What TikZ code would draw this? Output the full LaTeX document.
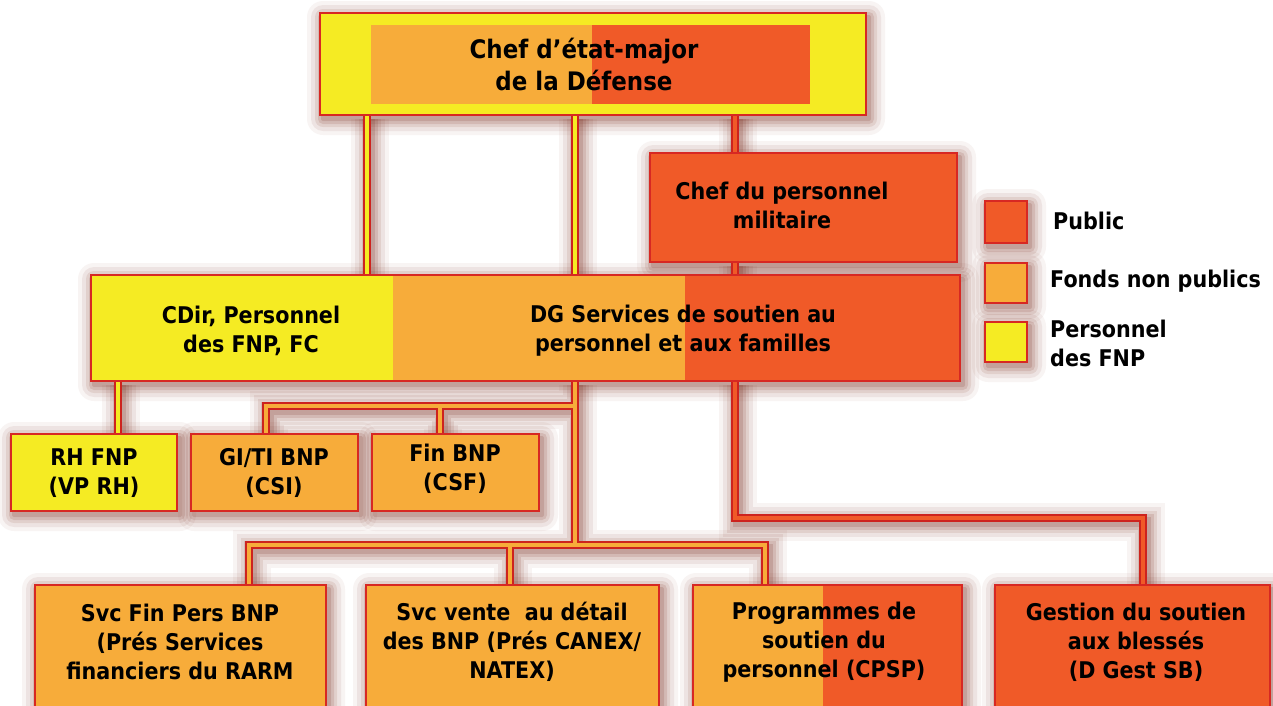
\documentclass[tikz,border=0pt]{standalone}
\usepackage{fontspec}
\setmainfont{DejaVu Sans}[FakeStretch=0.9]
\usetikzlibrary{calc}
\definecolor{cyel}{RGB}{245,235,35}
\definecolor{cora}{RGB}{247,172,58}
\definecolor{cred}{RGB}{240,90,40}
\definecolor{cbrd}{RGB}{215,40,35}
\definecolor{cline}{RGB}{205,35,30}
\definecolor{cshd}{RGB}{115,35,20}
\pgfdeclarelayer{shadow}
\pgfdeclarelayer{fills}
\pgfsetlayers{shadow,fills,main}
\newcommand\mkbox[6]{\node[box,fill=#6,minimum width={#4-#2},minimum height={#5-#3}] (#1) at (#2,#3) {};}
\newcommand\glowof[1]{\foreach \r/\o in {16/0.05,12/0.08,8/0.1,5/0.13,2/0.16}{\fill[cshd,fill opacity=\o,rounded corners=\r pt] ($(#1.north west)+(3-\r,4-\r)$) rectangle ($(#1.south east)+(3+\r,4+\r)$);}}
\newcommand\glowpath[1]{\foreach \w/\o in {38/0.05,30/0.08,22/0.1,16/0.13,10/0.16}{\draw[cshd,draw opacity=\o,line width=\w pt,transform canvas={shift={(3pt,-4pt)}}] #1;}}
\begin{document}
\begin{tikzpicture}[x=1pt,y=-1pt,font=\fontsize{23}{29}\selectfont\bfseries,
  box/.style={draw=cbrd,line width=1.6pt,inner sep=0pt,outer sep=0pt,anchor=north west},
  txt/.style={align=center,inner sep=0pt},
  ltxt/.style={align=left,inner sep=0pt,anchor=west},
  outl/.style={draw=cline,line width=8pt},
  core/.style={line width=4.5pt}]
\useasboundingbox (0,0) rectangle (1273,705);
\clip (0,0) rectangle (1273,705);
% boxes
\mkbox{cdsm}{320}{13}{866}{115}{none}
\mkbox{cpm}{650}{153}{957}{262}{cred}
\mkbox{mid}{91}{275}{960}{381}{none}
\mkbox{rh}{11}{434}{177}{511}{cyel}
\mkbox{giti}{191}{434}{358}{511}{cora}
\mkbox{fin}{372}{434}{539}{511}{cora}
\mkbox{svcfin}{35}{585}{326}{725}{cora}
\mkbox{svcvente}{366}{585}{659}{725}{cora}
\mkbox{prog}{693}{585}{962}{725}{none}
\mkbox{gest}{995}{585}{1270}{725}{cred}
\mkbox{lgpub}{985}{201}{1027}{243}{cred}
\mkbox{lgfnp}{985}{263}{1027}{303}{cora}
\mkbox{lgper}{985}{322}{1027}{362}{cyel}
% texts
\node[txt,font=\fontsize{25.5}{32}\selectfont\bfseries] (tcdsm) at (584,64) {Chef d’état-major\\de la Défense};
\node[txt] (tcpm) at (782,205) {Chef du personnel\\militaire};
\node[txt] (tcdir) at (251,331) {CDir, Personnel\\des FNP, FC};
\node[txt] (tdg) at (683,331) {DG Services de soutien au\\personnel et aux familles};
\node[txt] (trh) at (94,473) {RH FNP\\(VP RH)};
\node[txt] (tgiti) at (274,473) {GI/TI BNP\\(CSI)};
\node[txt] (tfin) at (455,469) {Fin BNP\\(CSF)};
\node[txt] (tsvcfin) at (180,642) {Svc Fin Pers BNP\\(Prés Services\\financiers du RARM};
\node[txt] (tsvcvente) at (512,642) {Svc vente\ \ au détail\\des BNP (Prés CANEX/\\NATEX)};
\node[txt] (tprog) at (824,642) {Programmes de\\soutien du\\personnel (CPSP)};
\node[txt] (tgest) at (1136,642) {Gestion du soutien\\aux blessés\\(D Gest SB)};
\node[ltxt] (lpub) at (1053,221) {Public};
\node[ltxt] (lfnp) at (1050,281) {Fonds non publics};
\node[ltxt] (lper) at (1050,343) {Personnel\\des FNP};
% connector coordinates
\coordinate (xA) at (367,0);
\coordinate (xB) at (575,0);
\coordinate (xC) at (735,0);
\coordinate (xD) at (118,0);
\coordinate (xE) at (266,0);
\coordinate (xF) at (440,0);
\coordinate (xG) at (249,0);
\coordinate (xH) at (765,0);
\coordinate (xI) at (510,0);
\coordinate (xJ) at (1143,0);
\coordinate (j1) at (575,406);
\coordinate (j2) at (575,545);
\coordinate (j3) at (735,518);
\def\yelpaths{(cdsm.south -| xA) -- (mid.north -| xA) (cdsm.south -| xB) -- (mid.north -| xB) (mid.south -| xD) -- (rh.north -| xD)}
\def\orapaths{(mid.south -| xB) -- (j2) (j1) -| (giti.north -| xE) (j1 -| xF) -- (fin.north -| xF) (j2) -| (svcfin.north -| xG) (j2) -| (prog.north -| xH) (j2 -| xI) -- (svcvente.north -| xI)}
\def\redpaths{(cdsm.south -| xC) -- (cpm.north -| xC) (cpm.south -| xC) -- (mid.north -| xC) (mid.south -| xC) -- (j3) -| (gest.north -| xJ)}
\begin{pgfonlayer}{shadow}
  \foreach \n in {cdsm,cpm,mid,rh,giti,fin,svcfin,svcvente,prog,gest,lgpub,lgfnp,lgper}{\glowof{\n}}
  \glowpath{\yelpaths}
  \glowpath{\orapaths}
  \glowpath{\redpaths}
\end{pgfonlayer}
\begin{pgfonlayer}{fills}
  \fill[cyel] (cdsm.north west) rectangle (cdsm.south east);
  \fill[cora] (371,25) rectangle (592,104);
  \fill[cred] (592,25) rectangle (810,104);
  \fill[cyel] (mid.north west) rectangle (393,381);
  \fill[cora] (393,275) rectangle (685,381);
  \fill[cred] (685,275) rectangle (mid.south east);
  \fill[cora] (prog.north west) rectangle (823,725);
  \fill[cred] (823,585) rectangle (prog.south east);
  \draw[outl] \yelpaths;
  \draw[outl] \orapaths;
  \draw[outl] \redpaths;
  \draw[core,cyel] \yelpaths;
  \draw[core,cora] \orapaths;
  \draw[core,cred] \redpaths;
\end{pgfonlayer}
\end{tikzpicture}
\end{document}
